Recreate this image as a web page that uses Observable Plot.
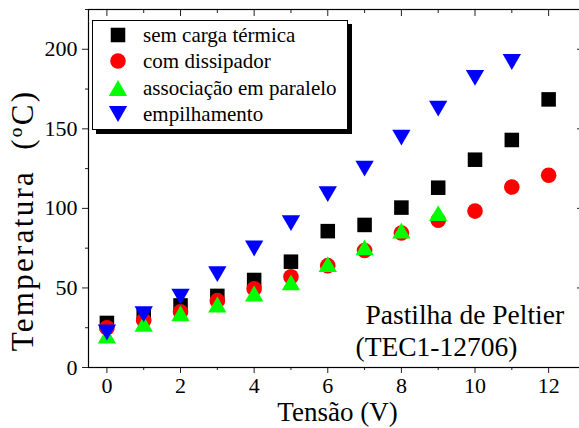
<!DOCTYPE html>
<html><head><meta charset="utf-8">
<script src="https://cdn.jsdelivr.net/npm/d3@7"></script>
<script src="https://cdn.jsdelivr.net/npm/@observablehq/plot@0.6"></script>
<style>
html,body{margin:0;padding:0;background:#fff;}
#wrap{position:relative;width:579px;height:428px;overflow:hidden;font-family:"Liberation Serif","Times New Roman",Tinos,"Nimbus Roman","DejaVu Serif",serif;color:#000;}
#legend{position:absolute;left:92px;top:20px;width:254px;height:108px;border:1px solid #000;box-shadow:4px 4px 0 #000;background:#fff;}
.sym{position:absolute;}
.lab{position:absolute;font-size:21px;white-space:nowrap;line-height:26px;}
</style></head><body><div id="wrap"></div>
<script>
// ---- data ----
const voltage = [0, 1, 2, 3, 4, 5, 6, 7, 8, 9, 10, 11, 12];
const semCargaTermica = [28, 33, 39, 45, 55, 66.5, 85.7, 89.6, 100.5, 113, 130.6, 143, 168.5];
const comDissipador = [25, 29.5, 35, 42, 49.5, 57, 64, 73.5, 84.5, 92.5, 98.3, 113.4, 120.8];
const associacaoParalelo = [20, 27.5, 34, 39.6, 46.5, 53.5, 65, 75.5, 86, 97];
const empilhamento = [22, 33.5, 44.5, 58.7, 74.8, 90.7, 109, 125, 144.5, 162.7, 182, 192];
const seriesNames = ["sem carga térmica", "com dissipador", "associação em paralelo", "empilhamento"];
const seriesColors = ["#000000", "#ff0000", "#00ff00", "#0000ff"];
const xMajorTicks = [0, 2, 4, 6, 8, 10, 12];
const xMinorTicks = [1, 3, 5, 7, 9, 11];
const yMajorTicks = [0, 50, 100, 150, 200];
const yMinorTicks = [25, 75, 125, 175, 225];
const xTitle = "Tensão (V)";
const yTitle = "Temperatura  (ºC)";
const note1 = "Pastilha de Peltier";
const note2 = "(TEC1-12706)";

const FONT = '"Liberation Serif", "Times New Roman", Tinos, "Nimbus Roman", "DejaVu Serif", serif';

// ---- symbols centred on their bounding box ----
const triUp = {draw(ctx, size) { const s = Math.sqrt(size * 4 / Math.sqrt(3)), h = s * Math.sqrt(3) / 2;
  ctx.moveTo(0, -h / 2); ctx.lineTo(s / 2, h / 2); ctx.lineTo(-s / 2, h / 2); ctx.closePath(); }};
const triDown = {draw(ctx, size) { const s = Math.sqrt(size * 4 / Math.sqrt(3)), h = s * Math.sqrt(3) / 2;
  ctx.moveTo(0, h / 2); ctx.lineTo(s / 2, -h / 2); ctx.lineTo(-s / 2, -h / 2); ctx.closePath(); }};
const symbols = [d3.symbolSquare, d3.symbolCircle, triUp, triDown];
const radii = [8.2, 7.8, 6.8, 6.8];
const seriesValues = [semCargaTermica, comDissipador, associacaoParalelo, empilhamento];

const dotMarks = seriesValues.map((vals, k) => Plot.dot(vals, {
  x: (d, i) => voltage[i], y: d => d, symbol: symbols[k], r: radii[k], fill: seriesColors[k], stroke: "none"
}));

const tickColor = "#222";
const chart = Plot.plot({
  width: 579, height: 428,
  marginLeft: 88, marginRight: -3, marginTop: 9, marginBottom: 61,
  style: {fontFamily: FONT, fontSize: "22px", color: "#000", background: "#fff", overflow: "hidden"},
  x: {domain: [-0.5, 12.92], axis: null},
  y: {domain: [0, 225], axis: null},
  marks: [
    Plot.axisX({ticks: xMajorTicks, anchor: "bottom", tickSize: 6, tickPadding: 4, fontSize: 22, label: null, stroke: tickColor}),
    Plot.axisX({ticks: xMinorTicks, anchor: "bottom", tickSize: 3, tickFormat: () => "", label: null, stroke: tickColor}),
    Plot.axisX({ticks: xMajorTicks, anchor: "top", tickSize: -6, tickFormat: () => "", label: null, stroke: tickColor}),
    Plot.axisX({ticks: xMinorTicks, anchor: "top", tickSize: -3, tickFormat: () => "", label: null, stroke: tickColor}),
    Plot.axisY({ticks: yMajorTicks, anchor: "left", tickSize: 6, tickPadding: 5, fontSize: 22, label: null, stroke: tickColor}),
    Plot.axisY({ticks: yMinorTicks, anchor: "left", tickSize: 3, tickFormat: () => "", label: null, stroke: tickColor}),
    Plot.axisY({ticks: yMajorTicks, anchor: "right", tickSize: -6, tickFormat: () => "", label: null, stroke: tickColor}),
    Plot.frame({stroke: "#000", strokeWidth: 1.2}),
    ...dotMarks,
    Plot.text([xTitle], {text: d => d, frameAnchor: "bottom", textAnchor: "middle", lineAnchor: "bottom", dx: 2, dy: 53, fontSize: 27}),
    Plot.text([yTitle], {text: d => d, frameAnchor: "left", textAnchor: "middle", lineAnchor: "middle", rotate: -90, dx: -65.5, dy: 32, fontSize: 31}),
    Plot.text([note1], {text: d => d, frameAnchor: "bottom-left", textAnchor: "start", lineAnchor: "bottom", dx: 277, dy: -44, fontSize: 27.5}),
    Plot.text([note2], {text: d => d, frameAnchor: "bottom-left", textAnchor: "start", lineAnchor: "bottom", dx: 267, dy: -12, fontSize: 27.5})
  ]
});
d3.select(chart).selectAll("text").style("font-family", FONT);
d3.select(chart).selectAll("text").filter(function() { return this.textContent === yTitle; })
  .style("white-space", "pre").style("letter-spacing", "2.3px");

const wrap = document.getElementById("wrap");
wrap.appendChild(chart);

// ---- legend inside the frame ----
const legend = document.createElement("div");
legend.id = "legend";
seriesNames.forEach((name, k) => {
  const cy = 14 + k * 26.3;
  const svg = d3.create("svg").attr("class", "sym").attr("width", 24).attr("height", 24)
    .style("left", (25 - 12) + "px").style("top", (cy - 12) + "px");
  svg.append("path").attr("transform", "translate(12,12)")
    .attr("d", d3.symbol(symbols[k], Math.PI * radii[k] * radii[k])())
    .attr("fill", seriesColors[k]);
  legend.appendChild(svg.node());
  const lab = document.createElement("div");
  lab.className = "lab";
  lab.textContent = name;
  lab.style.left = "50px";
  lab.style.top = (cy - 13) + "px";
  legend.appendChild(lab);
});
wrap.appendChild(legend);
</script></body></html>
